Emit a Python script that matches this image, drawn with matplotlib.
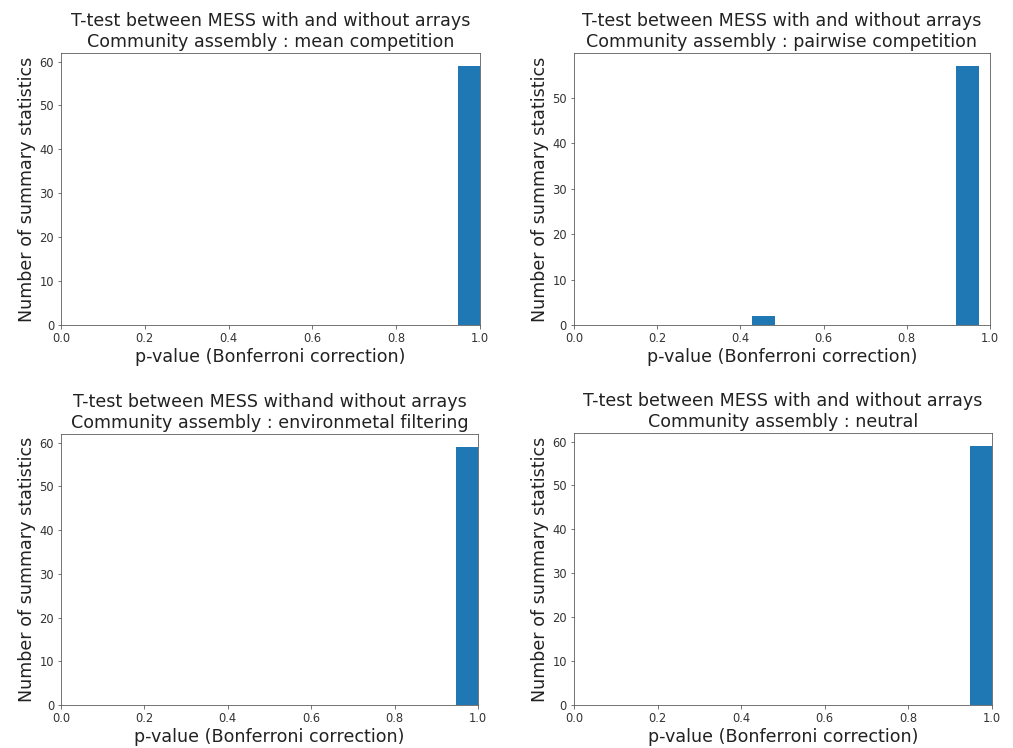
import matplotlib
matplotlib.use('Agg')
from matplotlib import pyplot as plt

W, H, DPI = 1013, 748, 72

TITLES = [
    'T-test between MESS with and without arrays\nCommunity assembly : mean competition',
    'T-test between MESS with and without arrays\nCommunity assembly : pairwise competition',
    'T-test between MESS withand without arrays\nCommunity assembly : environmetal filtering',
    'T-test between MESS with and without arrays\nCommunity assembly : neutral',
]

# histogram bin edges and counts
mean_comp_edges = [0.948, 1.0]
mean_comp_counts = [59]
pairwise_edges = [0.428, 0.4826, 0.5372, 0.5918, 0.6464, 0.701,
                  0.7556, 0.8102, 0.8648, 0.9194, 0.974]
pairwise_counts = [2, 0, 0, 0, 0, 0, 0, 0, 0, 57]
env_filter_edges = [0.947, 1.0]
env_filter_counts = [59]
neutral_edges = [0.947, 1.0]
neutral_counts = [59]

PANELS = [
    (mean_comp_edges, mean_comp_counts),
    (pairwise_edges, pairwise_counts),
    (env_filter_edges, env_filter_counts),
    (neutral_edges, neutral_counts),
]

# axes boxes in pixels: left, top, right, bottom
BOXES = [(61, 53, 480, 325), (574, 53, 990, 325),
         (61, 434, 478, 705), (574, 433, 992, 705)]

fig = plt.figure(figsize=(W / DPI, H / DPI), dpi=DPI)

for (edges, counts), title, (l, t, r, b) in zip(PANELS, TITLES, BOXES):
    ax = fig.add_axes([l / W, 1 - b / H, (r - l) / W, (b - t) / H])
    ax.hist(edges[:-1], bins=edges, weights=counts, color='#1f77b4')
    ax.set_xlim(0, 1)
    ax.set_title(title, fontsize=17.5, color='#222222')
    ax.set_xlabel('p-value (Bonferroni correction)', fontsize=17.5,
                  color='#222222', labelpad=3)
    ax.set_ylabel('Number of summary statistics', fontsize=17.5,
                  color='#222222', labelpad=3)
    ax.tick_params(labelsize=11.5, labelcolor='#333333', color='#555555')
    for spine in ax.spines.values():
        spine.set_color('#555555')

fig.savefig('out.png', dpi=DPI)
